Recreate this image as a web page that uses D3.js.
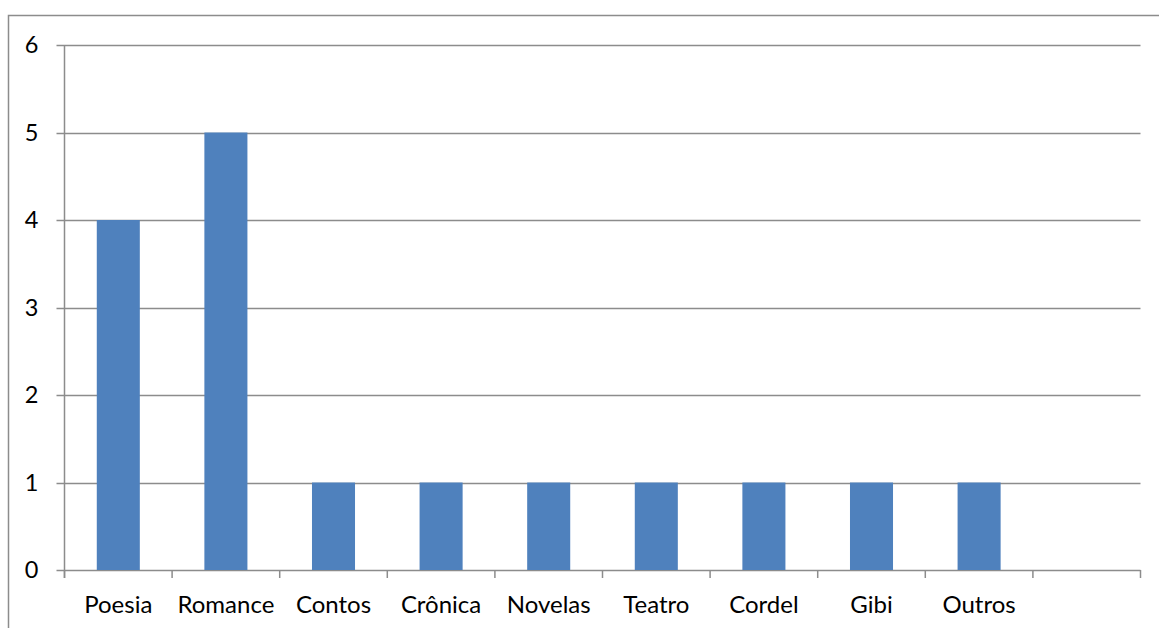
<!DOCTYPE html>
<html>
<head>
<meta charset="utf-8">
<script src="https://cdn.jsdelivr.net/npm/d3@7"></script>
<style>
  html, body { margin: 0; padding: 0; background: #fff; }
  svg { display: block; }
  text { font-family: "Lato", "Open Sans", sans-serif; fill: #000; }
</style>
</head>
<body>
<svg id="chart" width="1159" height="628"></svg>
<script>
// Genres read, one count per genre; the axis keeps one trailing empty slot
const categories = ["Poesia", "Romance", "Contos", "Crônica", "Novelas", "Teatro", "Cordel", "Gibi", "Outros", ""];
const values = [4, 5, 1, 1, 1, 1, 1, 1, 1, null];
const yTicks = [0, 1, 2, 3, 4, 5, 6];

const svg = d3.select("#chart");
const plot = { left: 64.5, right: 1140.5, top: 45, bottom: 570 };

const x = d3.scaleBand()
  .domain(d3.range(categories.length))
  .range([plot.left, plot.right])
  .paddingInner(0).paddingOuter(0);

const y = d3.scaleLinear().domain([0, 6]).range([plot.bottom, plot.top]);

const gridColor = "#8c8c8c";

// Outer chart frame
svg.append("rect")
  .attr("x", 8.5).attr("y", 15.5)
  .attr("width", 1200).attr("height", 700)
  .attr("fill", "none").attr("stroke", "#8c8c8c").attr("stroke-width", 1.5);

// Horizontal gridlines with short ticks to the left of the axis
svg.append("g").selectAll("line")
  .data(yTicks)
  .join("line")
  .attr("x1", plot.left - 8).attr("x2", plot.right)
  .attr("y1", d => Math.round(y(d)) + 0.5).attr("y2", d => Math.round(y(d)) + 0.5)
  .attr("stroke", gridColor).attr("stroke-width", 1.5);

// Y tick labels
svg.append("g").selectAll("text")
  .data(yTicks)
  .join("text")
  .attr("x", 38.5).attr("y", d => y(d))
  .attr("dy", "0.36em")
  .attr("text-anchor", "end")
  .attr("font-size", 23.5)
  .text(d => d);

// Vertical axis line
svg.append("line")
  .attr("x1", plot.left).attr("x2", plot.left)
  .attr("y1", plot.top).attr("y2", plot.bottom + 8)
  .attr("stroke", gridColor).attr("stroke-width", 1.5);

// Category boundary ticks below the baseline
const bounds = d3.range(categories.length + 1).map(i => plot.left + i * x.step());
svg.append("g").selectAll("line")
  .data(bounds)
  .join("line")
  .attr("x1", d => d).attr("x2", d => d)
  .attr("y1", plot.bottom).attr("y2", plot.bottom + 8)
  .attr("stroke", gridColor).attr("stroke-width", 1.5);

// Bars, 40% of each category slot, centred
const barW = x.step() * 0.4;
svg.append("g").selectAll("rect")
  .data(values.map((v, i) => ({ v, i })).filter(d => d.v != null))
  .join("rect")
  .attr("x", d => x(d.i) + (x.step() - barW) / 2)
  .attr("y", d => y(d.v))
  .attr("width", barW)
  .attr("height", d => y(0) - y(d.v))
  .attr("fill", "#4f81bd");

// Category labels
svg.append("g").selectAll("text")
  .data(categories.map((c, i) => ({ c, i })))
  .join("text")
  .attr("x", d => x(d.i) + x.step() / 2)
  .attr("y", 613)
  .attr("text-anchor", "middle")
  .attr("font-size", 24)
  .text(d => d.c);
</script>
</body>
</html>
